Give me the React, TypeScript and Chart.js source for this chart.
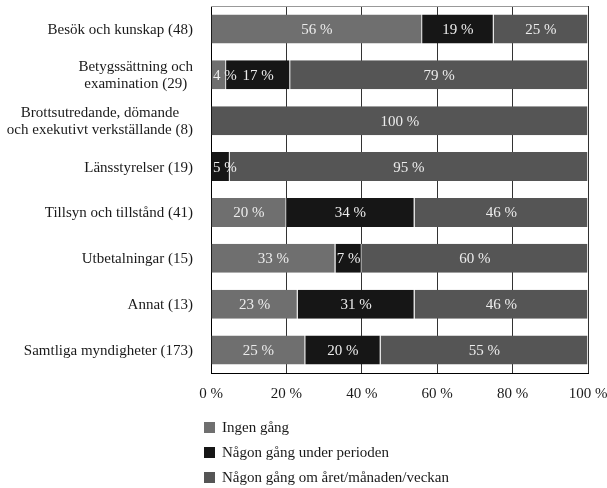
import { useEffect, useRef } from 'react';
import { Chart, registerables } from 'chart.js';

Chart.register(...registerables);

const categories: string[][] = [
  ['Besök och kunskap (48)'],
  ['Betygssättning och', 'examination (29)'],
  ['Brottsutredande, dömande', 'och exekutivt verkställande (8)'],
  ['Länsstyrelser (19)'],
  ['Tillsyn och tillstånd (41)'],
  ['Utbetalningar (15)'],
  ['Annat (13)'],
  ['Samtliga myndigheter (173)'],
];
const ingenGang = [56, 4, 0, 0, 20, 33, 23, 25];
const underPerioden = [19, 17, 0, 5, 34, 7, 31, 20];
const omAret = [25, 79, 100, 95, 46, 60, 46, 55];
const seriesNames = ['Ingen gång', 'Någon gång under perioden', 'Någon gång om året/månaden/veckan'];
const seriesColors = ['#6f6f6f', '#161616', '#555555'];

const FONT = '"Liberation Serif", serif';
const FS = 15;

const barLabels = {
  id: 'barLabels',
  afterDatasetsDraw(chart: any) {
    const ctx = chart.ctx;
    ctx.save();
    ctx.font = `${FS}px ${FONT}`;
    ctx.fillStyle = '#ececec';
    ctx.textAlign = 'center';
    ctx.textBaseline = 'middle';
    chart.data.datasets.forEach((ds: any, i: number) => {
      const meta = chart.getDatasetMeta(i);
      meta.data.forEach((el: any, j: number) => {
        const v = ds.data[j];
        if (!v) return;
        const { x, y, base } = el.getProps(['x', 'y', 'base'], true);
        let cx = (x + base) / 2;
        const w = ctx.measureText(`${v} %`).width;
        if (cx - w / 2 < chart.chartArea.left + 2) cx = chart.chartArea.left + 2 + w / 2;
        ctx.fillText(`${v} %`, cx, y + 1);
      });
    });
    ctx.restore();
  },
};

const frameAndText = {
  id: 'frameAndText',
  beforeDatasetsDraw(chart: any) {
    const { ctx, chartArea } = chart;
    ctx.save();
    ctx.strokeStyle = '#999';
    ctx.lineWidth = 1;
    ctx.beginPath();
    ctx.moveTo(chartArea.left, chartArea.top + 0.5);
    ctx.lineTo(chartArea.right, chartArea.top + 0.5);
    ctx.stroke();
    ctx.restore();
  },
  afterDraw(chart: any) {
    const { ctx, chartArea } = chart;
    const yScale = chart.scales.y;
    ctx.save();
    ctx.font = `${FS}px ${FONT}`;
    ctx.fillStyle = '#1a1a1a';
    ctx.textBaseline = 'middle';
    ctx.textAlign = 'center';
    const rightEdge = chartArea.left - 18;
    const lh = 17;
    categories.forEach((lines, i) => {
      const yc = yScale.getPixelForValue(i) + 1;
      const maxW = Math.max(...lines.map((l) => ctx.measureText(l).width));
      const cx = Math.max(rightEdge - maxW / 2, 4 + maxW / 2);
      lines.forEach((l, k) => {
        const y = yc + (k - (lines.length - 1) / 2) * lh;
        ctx.fillText(l, cx, y);
      });
    });
    // legend
    ctx.textAlign = 'left';
    chart.data.datasets.forEach((ds: any, i: number) => {
      const yc = chartArea.bottom + 54 + i * 25;
      const x0 = chartArea.left - 7;
      ctx.fillStyle = ds.backgroundColor;
      ctx.fillRect(x0, yc - 5, 11, 11);
      ctx.fillStyle = '#1a1a1a';
      ctx.fillText(ds.label, x0 + 18, yc + 1);
    });
    ctx.restore();
  },
};

export default function App() {
  const ref = useRef<HTMLCanvasElement>(null);
  useEffect(() => {
    document.body.style.margin = '0';
    const border = { top: 0, right: 1, bottom: 0, left: 0 };
    const chart = new Chart(ref.current!, {
      type: 'bar',
      data: {
        labels: categories.map((c) => c.join(' ')),
        datasets: [ingenGang, underPerioden, omAret].map((d, i) => ({
          label: seriesNames[i],
          data: d,
          backgroundColor: seriesColors[i],
          borderColor: '#d8d8d8',
          borderWidth: border,
          borderSkipped: false,
          categoryPercentage: 1,
          barPercentage: 0.63,
        })),
      },
      options: {
        indexAxis: 'y',
        animation: false,
        responsive: false,
        layout: { padding: { top: 6, right: 19, bottom: 90, left: 0 } },
        plugins: { legend: { display: false }, tooltip: { enabled: false } },
        scales: {
          x: {
            stacked: true,
            min: 0,
            max: 100,
            ticks: {
              stepSize: 20,
              callback: (v: any) => `${v} %`,
              font: { family: FONT, size: FS },
              color: '#1a1a1a',
              padding: 12,
              maxRotation: 0,
            },
            grid: { color: '#333', drawTicks: false },
            border: { color: '#000', width: 1 },
            afterFit: (s: any) => {
              s.height = 25;
              s.paddingLeft = 0;
              s.paddingRight = 0;
            },
          },
          y: {
            stacked: true,
            ticks: { display: false },
            grid: { display: false },
            border: { color: '#000', width: 1 },
            afterFit: (s: any) => {
              s.width = 211;
              s.paddingTop = 0;
              s.paddingBottom = 0;
            },
          },
        },
      },
      plugins: [barLabels, frameAndText],
    });
    return () => chart.destroy();
  }, []);
  return <canvas ref={ref} width={607} height={488} style={{ display: 'block' }} />;
}
